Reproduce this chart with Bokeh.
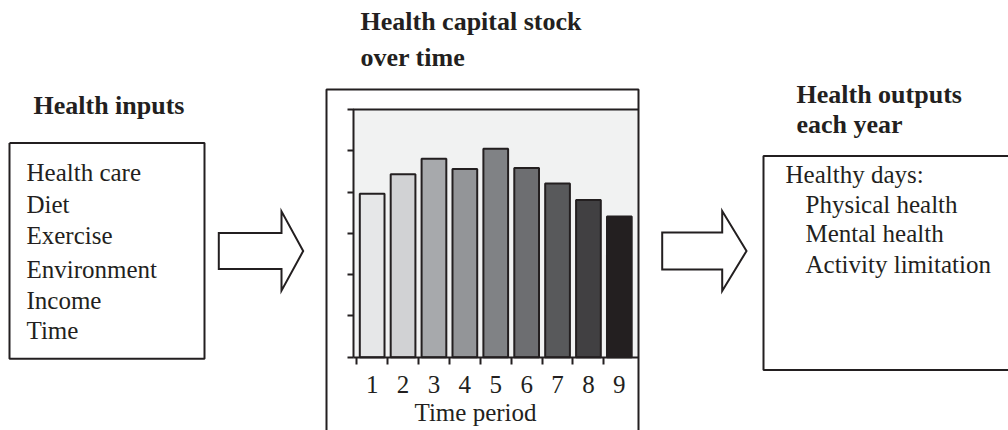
from bokeh.plotting import figure
from bokeh.models import Range1d, LinearAxis, FixedTicker, ColumnDataSource
from bokeh.core.properties import value
from bokeh.embed import file_html
from bokeh.resources import INLINE

# ---------------- data ----------------
periods = [1, 2, 3, 4, 5, 6, 7, 8, 9]
stock = [3.96, 4.43, 4.81, 4.56, 5.05, 4.58, 4.21, 3.81, 3.41]
bar_colors = ["#e6e7e8", "#d1d2d4", "#a7a9ac", "#939598", "#808285",
              "#6d6e71", "#58595b", "#414042", "#231f20"]
y_ticks = [0, 1, 2, 3, 4, 5, 6]
inputs_title = "Health inputs"
inputs = ["Health care", "Diet", "Exercise", "Environment", "Income", "Time"]
stock_title = ["Health capital stock", "over time"]
x_label = "Time period"
outputs_title = ["Health outputs", "each year"]
outputs_header = "Healthy days:"
outputs = ["Physical health", "Mental health", "Activity limitation"]

# ---------------- layout (page pixels) ----------------
W, H = 1008, 430
INK = "#231f20"
FONT = value("Liberation Serif")

# bar chart plot area in pixels and its data extent
PL, PR, PT, PB = 352.5, 638.0, 109.0, 356.7
XMIN, XMAX = 0.38, 9.62
YMIN, YMAX = 0.0, 6.0
sx = (XMAX - XMIN) / (PR - PL)
sy = (YMAX - YMIN) / (PB - PT)

p = figure(width=W, height=H, x_range=Range1d(0, W), y_range=Range1d(H, 0),
           x_axis_type=None, y_axis_type=None, toolbar_location=None,
           output_backend="svg", min_border=0, outline_line_color=None,
           background_fill_color="white", border_fill_color="white")
p.extra_x_ranges = {"barx": Range1d(XMIN - PL * sx, XMIN + (W - PL) * sx)}
p.extra_y_ranges = {"bary": Range1d(YMIN - (H - PB) * sy, YMAX + PT * sy)}

# plot-area background and top border
p.quad(left=[XMIN], right=[XMAX], bottom=[YMIN], top=[YMAX],
       fill_color="#f1f2f2", line_color=None,
       x_range_name="barx", y_range_name="bary")
p.segment(x0=[XMIN], y0=[YMAX], x1=[XMAX], y1=[YMAX], line_color=INK,
          line_width=2, x_range_name="barx", y_range_name="bary")

src = ColumnDataSource(dict(period=periods, stock=stock, color=bar_colors))
p.vbar(x="period", top="stock", bottom=0, width=0.8, source=src,
       fill_color="color", line_color=INK, line_width=2,
       x_range_name="barx", y_range_name="bary")

xaxis = LinearAxis(x_range_name="barx", y_range_name="bary",
                   fixed_location=YMIN, bounds=(XMIN, XMAX),
                   ticker=FixedTicker(ticks=periods,
                                      minor_ticks=[v - 0.5 for v in periods]),
                   major_tick_out=0, major_tick_in=0,
                   minor_tick_out=7, minor_tick_in=0,
                   minor_tick_line_color=INK, minor_tick_line_width=2,
                   axis_line_color=INK, axis_line_width=2,
                   major_label_standoff=12,
                   major_label_text_font="Liberation Serif",
                   major_label_text_font_size="25px",
                   major_label_text_color=INK)
p.add_layout(xaxis, "below")

yaxis = LinearAxis(x_range_name="barx", y_range_name="bary",
                   fixed_location=XMIN, bounds=(YMIN, YMAX),
                   ticker=FixedTicker(ticks=y_ticks),
                   major_tick_out=6, major_tick_in=0,
                   major_tick_line_color=INK, major_tick_line_width=2,
                   minor_tick_line_color=None,
                   axis_line_color=INK, axis_line_width=2,
                   major_label_text_color=None,
                   major_label_text_font_size="1px")
p.add_layout(yaxis, "left")

# boxes
p.multi_line(xs=[[9, 204, 204, 9, 9],
                 [326, 326, PR, PR],
                 [W + 10, 763, 763, W + 10]],
             ys=[[142.5, 142.5, 358.3, 358.3, 142.5],
                 [H + 10, 89, 89, H + 10],
                 [155.5, 155.5, 369.5, 369.5]],
             line_color=INK, line_width=2)

# arrows
def arrow(x0, xh, xt, yc, hs, hh):
    return ([x0, xh, xh, xt, xh, xh, x0],
            [yc - hs, yc - hs, yc - hh, yc, yc + hh, yc + hs, yc + hs])

a1 = arrow(218.3, 281, 302.7, 250.5, 18, 39.7)
a2 = arrow(661.7, 721.7, 746, 250.5, 18.5, 40)
p.patches(xs=[a1[0], a2[0]], ys=[a1[1], a2[1]], fill_color="white",
          line_color=INK, line_width=2, line_join="miter")

# texts (y = vertical centre of capitals)
def txt(xs, ys, labels, size="25px", style="normal", align="left"):
    p.text(x=xs, y=ys, text=labels, text_font=FONT,
           text_font_size=value(size), text_font_style=style,
           text_color=INK, text_align=align, text_baseline="middle")

txt([33], [104.7], [inputs_title], "26px", "bold")
txt([360, 360], [21.4, 57.4], stock_title, "26px", "bold")
txt([796, 796], [94.1, 124.1], outputs_title, "26px", "bold")
txt([26] * len(inputs), [171.8, 203.5, 235.1, 268.5, 300.1, 330.1], inputs)
txt([785], [173.5], [outputs_header])
txt([805] * len(outputs), [203.5, 232.5, 263.5], outputs)
txt([475], [411.8], [x_label], align="center")

open("out.html", "w").write(file_html(p, INLINE))
